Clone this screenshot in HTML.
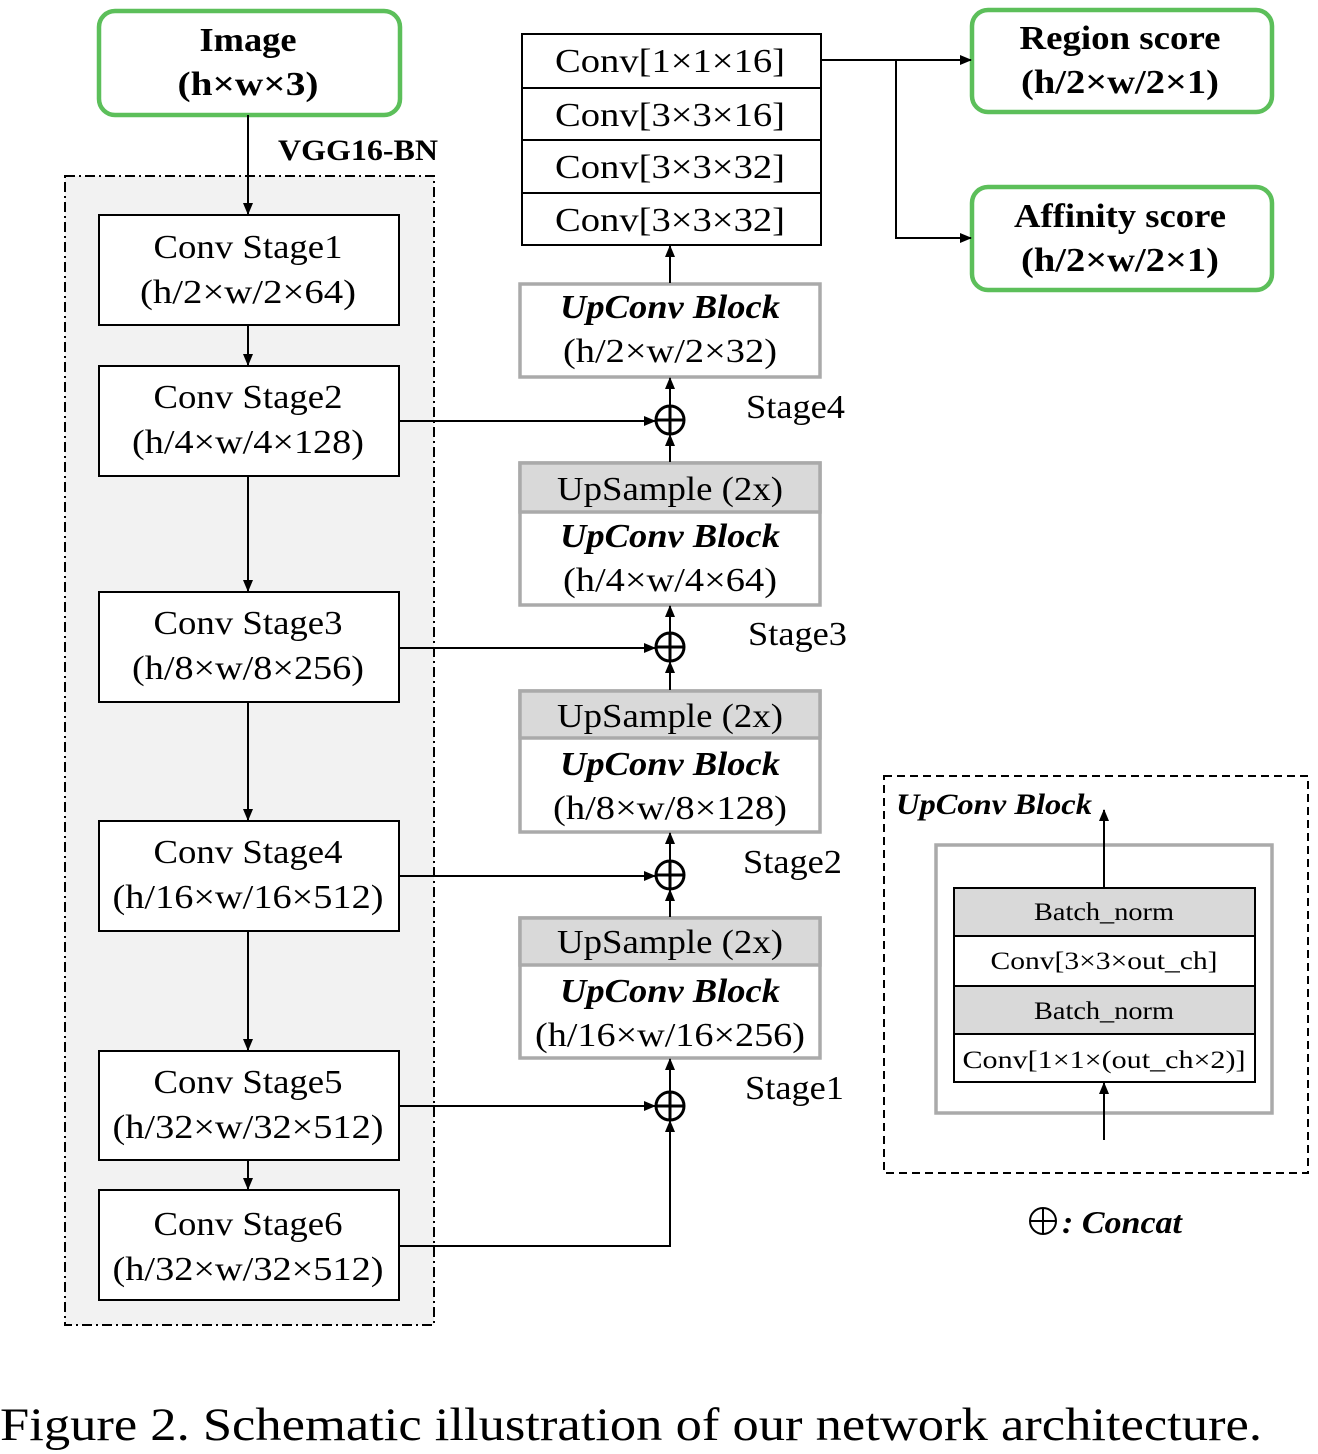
<!DOCTYPE html>
<html><head><meta charset="utf-8"><style>
html,body{margin:0;padding:0;background:#fff;}
svg{display:block;}
text{font-family:"Liberation Serif",serif;fill:#000;}
.t{font-size:34px;text-anchor:middle;}
.b{font-weight:bold;}
.bi{font-weight:bold;font-style:italic;}
.s{font-size:25px;text-anchor:middle;}
</style></head><body>
<svg width="1318" height="1454" viewBox="0 0 1318 1454" xmlns="http://www.w3.org/2000/svg">
<defs>
<marker id="a" markerWidth="12" markerHeight="10" refX="11" refY="5" orient="auto" markerUnits="userSpaceOnUse"><path d="M0,0 L12,5 L0,10 z" fill="#000"/></marker>
</defs>
<rect x="65" y="176" width="369" height="1149" fill="#f2f2f2" stroke="#000" stroke-width="2" stroke-dasharray="10,4,2,4"/>
<g fill="#fff" stroke="#5cbf5a" stroke-width="4.5">
<rect x="99" y="11" width="301" height="104" rx="16"/>
<rect x="972" y="10" width="300" height="102" rx="16"/>
<rect x="972" y="187" width="300" height="103" rx="16"/>
</g>
<g lengthAdjust="spacingAndGlyphs">
<text class="t b" x="248" y="51" textLength="97" lengthAdjust="spacingAndGlyphs">Image</text>
<text class="t b" x="248" y="95" textLength="141" lengthAdjust="spacingAndGlyphs">(h×w×3)</text>
<text class="t b" x="1120" y="49" textLength="201" lengthAdjust="spacingAndGlyphs">Region score</text>
<text class="t b" x="1120" y="93" textLength="198" lengthAdjust="spacingAndGlyphs">(h/2×w/2×1)</text>
<text class="t b" x="1120" y="227" textLength="212" lengthAdjust="spacingAndGlyphs">Affinity score</text>
<text class="t b" x="1120" y="271" textLength="198" lengthAdjust="spacingAndGlyphs">(h/2×w/2×1)</text>
<text class="b" x="278" y="160" style="font-size:30px" textLength="160" lengthAdjust="spacingAndGlyphs">VGG16-BN</text>
</g>
<g fill="#fff" stroke="#000" stroke-width="2">
<rect x="99" y="215" width="300" height="110"/>
<rect x="99" y="366" width="300" height="110"/>
<rect x="99" y="592" width="300" height="110"/>
<rect x="99" y="821" width="300" height="110"/>
<rect x="99" y="1051" width="300" height="109"/>
<rect x="99" y="1190" width="300" height="110"/>
</g>
<text class="t" x="248" y="258" textLength="189" lengthAdjust="spacingAndGlyphs">Conv Stage1</text><text class="t" x="248" y="303" textLength="216" lengthAdjust="spacingAndGlyphs">(h/2×w/2×64)</text>
<text class="t" x="248" y="408" textLength="189" lengthAdjust="spacingAndGlyphs">Conv Stage2</text><text class="t" x="248" y="453" textLength="232" lengthAdjust="spacingAndGlyphs">(h/4×w/4×128)</text>
<text class="t" x="248" y="634" textLength="189" lengthAdjust="spacingAndGlyphs">Conv Stage3</text><text class="t" x="248" y="679" textLength="232" lengthAdjust="spacingAndGlyphs">(h/8×w/8×256)</text>
<text class="t" x="248" y="863" textLength="189" lengthAdjust="spacingAndGlyphs">Conv Stage4</text><text class="t" x="248" y="908" textLength="271" lengthAdjust="spacingAndGlyphs">(h/16×w/16×512)</text>
<text class="t" x="248" y="1093" textLength="189" lengthAdjust="spacingAndGlyphs">Conv Stage5</text><text class="t" x="248" y="1138" textLength="271" lengthAdjust="spacingAndGlyphs">(h/32×w/32×512)</text>
<text class="t" x="248" y="1235" textLength="189" lengthAdjust="spacingAndGlyphs">Conv Stage6</text><text class="t" x="248" y="1280" textLength="271" lengthAdjust="spacingAndGlyphs">(h/32×w/32×512)</text>
<!-- top conv stack -->
<g fill="#fff" stroke="#000" stroke-width="2">
<rect x="522" y="34" width="299" height="211"/>
<path d="M522,88H821M522,140H821M522,193H821"/>
</g>
<text class="t" x="670" y="72" textLength="230" lengthAdjust="spacingAndGlyphs">Conv[1×1×16]</text>
<text class="t" x="670" y="126" textLength="230" lengthAdjust="spacingAndGlyphs">Conv[3×3×16]</text>
<text class="t" x="670" y="178" textLength="230" lengthAdjust="spacingAndGlyphs">Conv[3×3×32]</text>
<text class="t" x="670" y="231" textLength="230" lengthAdjust="spacingAndGlyphs">Conv[3×3×32]</text>
<!-- upconv blocks -->
<g stroke="#aaa" stroke-width="3.5">
<rect x="520" y="284" width="300" height="93" fill="#fff"/>
<rect x="520" y="463" width="300" height="142" fill="#fff"/>
<rect x="520" y="463" width="300" height="49" fill="#d9d9d9"/>
<rect x="520" y="691" width="300" height="141" fill="#fff"/>
<rect x="520" y="691" width="300" height="47" fill="#d9d9d9"/>
<rect x="520" y="918" width="300" height="140" fill="#fff"/>
<rect x="520" y="918" width="300" height="47" fill="#d9d9d9"/>
</g>
<text class="t bi" x="670" y="318" textLength="220" lengthAdjust="spacingAndGlyphs">UpConv Block</text><text class="t" x="670" y="362" textLength="214" lengthAdjust="spacingAndGlyphs">(h/2×w/2×32)</text>
<text class="t" x="670" y="500" textLength="226" lengthAdjust="spacingAndGlyphs">UpSample (2x)</text>
<text class="t bi" x="670" y="547" textLength="220" lengthAdjust="spacingAndGlyphs">UpConv Block</text><text class="t" x="670" y="591" textLength="214" lengthAdjust="spacingAndGlyphs">(h/4×w/4×64)</text>
<text class="t" x="670" y="727" textLength="226" lengthAdjust="spacingAndGlyphs">UpSample (2x)</text>
<text class="t bi" x="670" y="775" textLength="220" lengthAdjust="spacingAndGlyphs">UpConv Block</text><text class="t" x="670" y="819" textLength="234" lengthAdjust="spacingAndGlyphs">(h/8×w/8×128)</text>
<text class="t" x="670" y="953" textLength="226" lengthAdjust="spacingAndGlyphs">UpSample (2x)</text>
<text class="t bi" x="670" y="1002" textLength="220" lengthAdjust="spacingAndGlyphs">UpConv Block</text><text class="t" x="670" y="1046" textLength="270" lengthAdjust="spacingAndGlyphs">(h/16×w/16×256)</text>
<!-- legend box -->
<rect x="884" y="776" width="424" height="397" fill="none" stroke="#000" stroke-width="2" stroke-dasharray="8,5"/>
<text class="bi" x="896" y="814" style="font-size:30px" textLength="196" lengthAdjust="spacingAndGlyphs">UpConv Block</text>
<rect x="936" y="845" width="336" height="268" fill="#fff" stroke="#aaa" stroke-width="3.5"/>
<g stroke="#000" stroke-width="2">
<rect x="954" y="888" width="301" height="48" fill="#d9d9d9"/>
<rect x="954" y="936" width="301" height="50" fill="#fff"/>
<rect x="954" y="986" width="301" height="48" fill="#d9d9d9"/>
<rect x="954" y="1034" width="301" height="48" fill="#fff"/>
</g>
<text class="s" x="1104" y="920" textLength="140" lengthAdjust="spacingAndGlyphs">Batch_norm</text>
<text class="s" x="1104" y="969" textLength="227" lengthAdjust="spacingAndGlyphs">Conv[3×3×out_ch]</text>
<text class="s" x="1104" y="1019" textLength="140" lengthAdjust="spacingAndGlyphs">Batch_norm</text>
<text class="s" x="1104" y="1068" textLength="283" lengthAdjust="spacingAndGlyphs">Conv[1×1×(out_ch×2)]</text>
<!-- connectors -->
<g stroke="#000" stroke-width="2" fill="none" marker-end="url(#a)">
<line x1="248" y1="115" x2="248" y2="214"/>
<line x1="248" y1="325" x2="248" y2="365"/>
<line x1="248" y1="476" x2="248" y2="591"/>
<line x1="248" y1="702" x2="248" y2="820"/>
<line x1="248" y1="931" x2="248" y2="1050"/>
<line x1="248" y1="1160" x2="248" y2="1189"/>
<line x1="399" y1="421" x2="655" y2="421"/>
<line x1="399" y1="648" x2="655" y2="648"/>
<line x1="399" y1="876" x2="655" y2="876"/>
<line x1="399" y1="1106" x2="655" y2="1106"/>
<polyline points="399,1246 670,1246 670,1121"/>
<line x1="670" y1="1091" x2="670" y2="1059"/>
<line x1="670" y1="917" x2="670" y2="890"/>
<line x1="670" y1="860" x2="670" y2="833"/>
<line x1="670" y1="690" x2="670" y2="662"/>
<line x1="670" y1="632" x2="670" y2="606"/>
<line x1="670" y1="462" x2="670" y2="435"/>
<line x1="670" y1="405" x2="670" y2="378"/>
<line x1="670" y1="283" x2="670" y2="246"/>
<polyline points="821,60 971,60"/>
<polyline points="896,60 896,238 971,238"/>
<line x1="1104" y1="888" x2="1104" y2="810"/>
<line x1="1104" y1="1140" x2="1104" y2="1083"/>
</g>
<g stroke="#000" stroke-width="3" fill="#fff">
<circle cx="670" cy="420" r="14"/><path d="M656,420H684M670,406V434"/>
<circle cx="670" cy="647" r="14"/><path d="M656,647H684M670,633V661"/>
<circle cx="670" cy="875" r="14"/><path d="M656,875H684M670,861V889"/>
<circle cx="670" cy="1106" r="14"/><path d="M656,1106H684M670,1092V1120"/>
</g>
<text x="746" y="418" style="font-size:34px" textLength="99" lengthAdjust="spacingAndGlyphs">Stage4</text>
<text x="748" y="645" style="font-size:34px" textLength="99" lengthAdjust="spacingAndGlyphs">Stage3</text>
<text x="743" y="873" style="font-size:34px" textLength="99" lengthAdjust="spacingAndGlyphs">Stage2</text>
<text x="745" y="1099" style="font-size:34px" textLength="99" lengthAdjust="spacingAndGlyphs">Stage1</text>
<g stroke="#000" stroke-width="2" fill="none">
<circle cx="1043" cy="1221" r="13"/><path d="M1030,1221H1056M1043,1208V1234"/>
</g>
<text class="bi" x="1062" y="1233" style="font-size:32px" textLength="120" lengthAdjust="spacingAndGlyphs">: Concat</text>
<text x="0" y="1440" style="font-size:47px" textLength="1262" lengthAdjust="spacingAndGlyphs">Figure 2. Schematic illustration of our network architecture.</text>
</svg>
</body></html>
